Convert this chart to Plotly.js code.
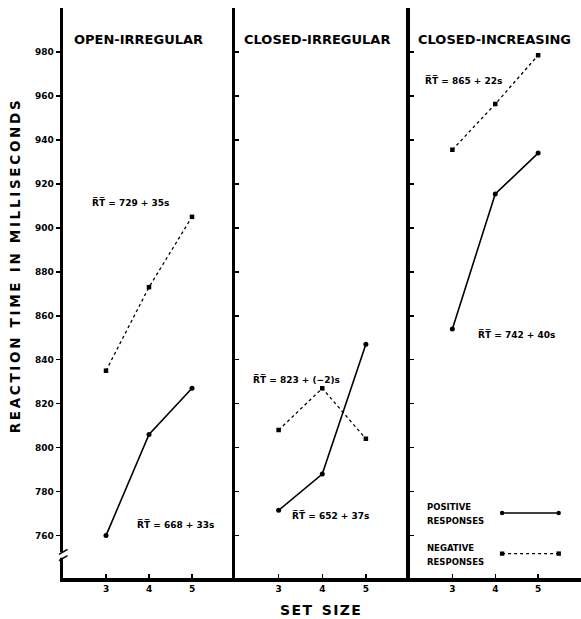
<!DOCTYPE html>
<html><head><meta charset="utf-8">
<script src="https://cdn.plot.ly/plotly-3.0.1.min.js"></script>
<style>html,body{margin:0;padding:0;background:#fff}</style>
</head><body>
<div id="chart" style="width:581px;height:619px"></div>
<script>
// ---- data ----
const setSizes = [3, 4, 5];
const conditions = ["OPEN-IRREGULAR", "CLOSED-IRREGULAR", "CLOSED-INCREASING"];
const openIrrPositive = [760, 806, 827];
const openIrrNegative = [835, 873, 905];
const closedIrrPositive = [771.5, 788, 847];
const closedIrrNegative = [808, 827, 804];
const closedIncPositive = [854, 915.4, 934];
const closedIncNegative = [935.5, 956.3, 978.5];
const yTickVals = [760, 780, 800, 820, 840, 860, 880, 900, 920, 940, 960, 980];
const positiveEquations = ["R\u0305T\u0305 = 668 + 33s", "R\u0305T\u0305 = 652 + 37s", "R\u0305T\u0305 = 742 + 40s"];
const negativeEquations = ["R\u0305T\u0305 = 729 + 35s", "R\u0305T\u0305 = 823 + (\u22122)s", "R\u0305T\u0305 = 865 + 22s"];
const legendLabels = [["POSITIVE", "RESPONSES"], ["NEGATIVE", "RESPONSES"]];
const yTitleWords = ["REACTION", "TIME", "IN", "MILLISECONDS"];
const xTitleWords = ["SET", "SIZE"];

// ---- build ----
const FONT = "DejaVu Sans";
const spaced = (words, letterGap, wordGap) => words.map(w => w.split("").join(letterGap)).join(wordGap);
const positives = [openIrrPositive, closedIrrPositive, closedIncPositive];
const negatives = [openIrrNegative, closedIrrNegative, closedIncNegative];
const axSuffix = ["", "2", "3"];
const traces = [];
for (let i = 0; i < 3; i++) {
  const xa = "x" + axSuffix[i], ya = "y" + axSuffix[i];
  traces.push({x: setSizes, y: positives[i], xaxis: xa, yaxis: ya, type: "scatter", mode: "lines+markers",
    line: {color: "#000", width: 1.6}, marker: {color: "#000", size: 5, symbol: "circle"}, showlegend: false, hoverinfo: "skip"});
  traces.push({x: setSizes, y: negatives[i], xaxis: xa, yaxis: ya, type: "scatter", mode: "lines+markers",
    line: {color: "#000", width: 1.3, dash: "dot"}, marker: {color: "#000", size: 4.5, symbol: "square"}, showlegend: false, hoverinfo: "skip"});
}

const L = 63, W = 518;
const px2paper = p => (p - L) / W;
const domains = [[0, px2paper(235)], [px2paper(235), px2paper(409.5)], [px2paper(409.5), 1]];
const yr = [740.7, 1000];
const tickFont = {family: FONT, size: 9, color: "#000", weight: 700};

const layout = {
  width: 581, height: 619,
  margin: {l: L, r: 0, t: 8, b: 41},
  paper_bgcolor: "#fff", plot_bgcolor: "#fff",
  showlegend: false,
  annotations: [], shapes: []
};
for (let i = 0; i < 3; i++) {
  const s = axSuffix[i];
  layout["xaxis" + s] = {
    domain: domains[i], range: [2, 6], anchor: "y" + s,
    tickvals: setSizes, ticktext: setSizes.map(String),
    ticks: "inside", ticklen: 4, tickwidth: 1.5, tickcolor: "#000",
    showline: true, linewidth: 3.5, linecolor: "#000",
    showgrid: false, zeroline: false, tickfont: tickFont, fixedrange: true
  };
  layout["yaxis" + s] = {
    domain: [0, 1], range: yr, anchor: "x" + s,
    tickvals: yTickVals, ticktext: yTickVals.map(String),
    showticklabels: i === 0,
    ticks: i === 0 ? "outside" : "inside", ticklen: 4, tickwidth: 1.5, tickcolor: "#000",
    showline: true, linewidth: 3.5, linecolor: "#000",
    showgrid: false, zeroline: false, tickfont: tickFont, fixedrange: true
  };
}

// panel titles
const titleX = [2.22, 2.17, 2.15];
conditions.forEach((c, i) => layout.annotations.push({
  text: c, xref: "x" + axSuffix[i], yref: "y" + axSuffix[i], x: titleX[i], y: 985.8,
  xanchor: "left", yanchor: "middle", showarrow: false,
  font: {family: FONT, size: 13, color: "#000", weight: 700}
}));

// equations
const eqFont = {family: FONT, size: 9, color: "#000", weight: 700};
const posEqPos = [[4.62, 765.1], [4.18, 769.2], [4.49, 851.6]];
const negEqPos = [[3.58, 911.6], [3.41, 831], [3.27, 967.1]];
for (let i = 0; i < 3; i++) {
  layout.annotations.push({text: positiveEquations[i], xref: "x" + axSuffix[i], yref: "y" + axSuffix[i],
    x: posEqPos[i][0], y: posEqPos[i][1], xanchor: "center", yanchor: "middle", showarrow: false, font: eqFont});
  layout.annotations.push({text: negativeEquations[i], xref: "x" + axSuffix[i], yref: "y" + axSuffix[i],
    x: negEqPos[i][0], y: negEqPos[i][1], xanchor: "center", yanchor: "middle", showarrow: false, font: eqFont});
}

// axis titles (letter-spaced)
layout.annotations.push({text: spaced(yTitleWords, "\u2009", "\u2009\u2009 "), xref: "paper", yref: "paper",
  x: px2paper(15), y: 0.545, xanchor: "center", yanchor: "middle", textangle: -90, showarrow: false,
  font: {family: FONT, size: 13.5, color: "#000", weight: 700}});
layout.annotations.push({text: spaced(xTitleWords, "\u200A", "  "), xref: "paper", yref: "paper",
  x: px2paper(320), y: -0.056, xanchor: "center", yanchor: "middle", showarrow: false,
  font: {family: FONT, size: 14, color: "#000", weight: 700}});

// legend (decoration in panel 3)
const legFont = {family: FONT, size: 8.5, color: "#000", weight: 700};
const legText = [[772.85, 766.5], [754.3, 747.9]];
const legLine = [770.3, 751.8];
legendLabels.forEach((lab, k) => {
  lab.forEach((t, j) => layout.annotations.push({text: t, xref: "x3", yref: "y3", x: 2.36, y: legText[k][j],
    xanchor: "left", yanchor: "middle", showarrow: false, font: legFont}));
  const ly = legLine[k];
  layout.shapes.push({type: "line", xref: "x3", yref: "y3", x0: 4.16, x1: 5.48, y0: ly, y1: ly,
    line: {color: "#000", width: k === 0 ? 1.6 : 1.3, dash: k === 0 ? "solid" : "dot"}});
  [4.16, 5.48].forEach(xx => layout.shapes.push({type: k === 0 ? "circle" : "rect", xref: "x3", yref: "y3",
    xsizemode: "pixel", ysizemode: "pixel", xanchor: xx, yanchor: ly, x0: -2.2, x1: 2.2, y0: -2.2, y1: 2.2,
    fillcolor: "#000", line: {color: "#000", width: 0}}));
});

// axis break on the left axis
layout.shapes.push({type: "rect", xref: "paper", yref: "y", x0: px2paper(59), x1: px2paper(68), y0: 749.9, y1: 752.4,
  fillcolor: "#fff", line: {width: 0}});
layout.shapes.push({type: "line", xref: "paper", yref: "y", x0: px2paper(59), x1: px2paper(67.5), y0: 748.6, y1: 750.9, line: {color: "#000", width: 1.5}});
layout.shapes.push({type: "line", xref: "paper", yref: "y", x0: px2paper(59), x1: px2paper(67.5), y0: 751.4, y1: 753.7, line: {color: "#000", width: 1.5}});

Plotly.newPlot("chart", traces, layout, {displayModeBar: false, staticPlot: true});
</script>
</body></html>
